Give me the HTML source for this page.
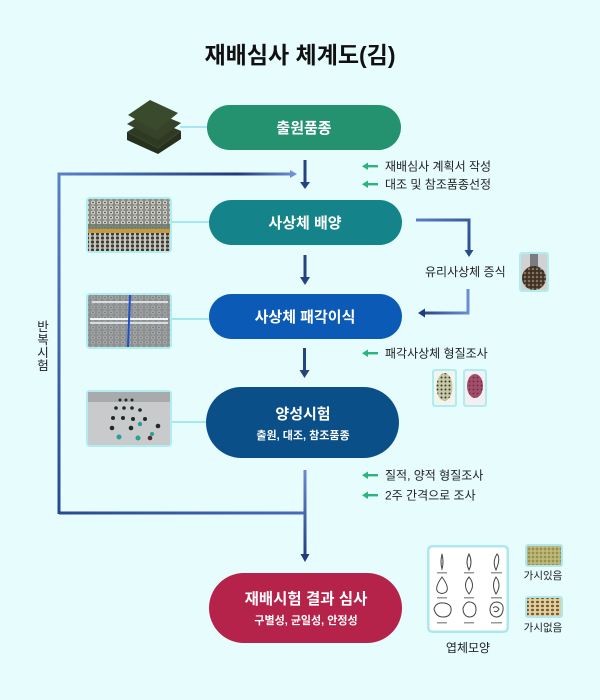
<!DOCTYPE html>
<html><head><meta charset="utf-8">
<style>
html,body{margin:0;padding:0;background:#e6fcfd;}
svg{display:block;font-family:"Liberation Sans","Noto Sans CJK KR",sans-serif;}
</style></head><body>
<svg width="600" height="700" viewBox="0 0 600 700" xmlns="http://www.w3.org/2000/svg">
<defs>
 <linearGradient id="gTop" gradientUnits="userSpaceOnUse" x1="59" y1="0" x2="297" y2="0">
  <stop offset="0" stop-color="#5b80c8"/><stop offset="0.75" stop-color="#1f3a7a"/><stop offset="1" stop-color="#7090d8"/>
 </linearGradient>
 <linearGradient id="gLeft" gradientUnits="userSpaceOnUse" x1="0" y1="174" x2="0" y2="514">
  <stop offset="0" stop-color="#5b80c8"/><stop offset="1" stop-color="#2a4a90"/>
 </linearGradient>
 <linearGradient id="gBot" gradientUnits="userSpaceOnUse" x1="59" y1="0" x2="305" y2="0">
  <stop offset="0" stop-color="#2a4a90"/><stop offset="1" stop-color="#4a6ab8"/>
 </linearGradient>
 <linearGradient id="gVert" gradientUnits="userSpaceOnUse" x1="0" y1="470" x2="0" y2="560">
  <stop offset="0" stop-color="#6a8ad2"/><stop offset="1" stop-color="#203c7c"/>
 </linearGradient>
 <linearGradient id="gR1" gradientUnits="userSpaceOnUse" x1="416" y1="220" x2="470" y2="257">
  <stop offset="0" stop-color="#5c7cc4"/><stop offset="1" stop-color="#2a4a8c"/>
 </linearGradient>
 <linearGradient id="gR2" gradientUnits="userSpaceOnUse" x1="470" y1="0" x2="418" y2="0">
  <stop offset="0" stop-color="#7090d4"/><stop offset="1" stop-color="#203c7c"/>
 </linearGradient>
 <pattern id="bub" width="6" height="5" patternUnits="userSpaceOnUse">
  <rect width="6" height="5" fill="#8a8c86"/>
  <circle cx="3" cy="2.5" r="2" fill="#d8d8d0"/>
  <circle cx="3" cy="2.5" r="0.9" fill="#4a4a40"/>
 </pattern>
 <pattern id="bub2" width="5" height="4" patternUnits="userSpaceOnUse">
  <rect width="5" height="4" fill="#c8c8c0"/>
  <circle cx="2.5" cy="2" r="1.6" fill="#3c3c34"/>
 </pattern>
 <pattern id="spk" width="4" height="4" patternUnits="userSpaceOnUse">
  <rect width="4" height="4" fill="#4a3a2a"/>
  <circle cx="1" cy="1" r="0.8" fill="#c8b8a0"/>
  <circle cx="3" cy="3" r="0.6" fill="#1e1810"/>
 </pattern>
 <pattern id="olive" width="4" height="4" patternUnits="userSpaceOnUse">
  <rect width="4" height="4" fill="#b6b070"/>
  <circle cx="1" cy="1" r="1" fill="#8a8a3c"/>
  <circle cx="3" cy="3" r="0.7" fill="#d0c890"/>
 </pattern>
 <pattern id="brownsp" width="5" height="4" patternUnits="userSpaceOnUse">
  <rect width="5" height="4" fill="#e0cfa0"/>
  <ellipse cx="2.5" cy="2" rx="1.6" ry="1.2" fill="#7a5a2a"/>
 </pattern>
 <pattern id="gsp" width="4" height="4" patternUnits="userSpaceOnUse">
  <rect width="4" height="4" fill="#c8c8a8"/>
  <circle cx="1.5" cy="1.5" r="1" fill="#2e3a20"/>
 </pattern>
 <pattern id="psp" width="4" height="4" patternUnits="userSpaceOnUse">
  <rect width="4" height="4" fill="#a04e6a"/>
  <circle cx="1.5" cy="1.5" r="0.9" fill="#6a2a4a"/>
 </pattern>
</defs>

<rect width="600" height="700" fill="#e6fcfd"/>

<!-- Title -->
<text x="300" y="63" text-anchor="middle" font-size="23" font-weight="bold" fill="#111">재배심사 체계도(김)</text>

<!-- photo connectors -->
<g stroke="#a6e8ee" stroke-width="2">
 <line x1="180" y1="127" x2="208" y2="127"/>
 <line x1="171" y1="222" x2="210" y2="222"/>
 <line x1="171" y1="319" x2="210" y2="319"/>
 <line x1="171" y1="422" x2="207" y2="422"/>
</g>

<!-- Laver stack -->
<g>
 <polygon points="127,132 150,118 181,131 158,148" fill="#2e3a22"/>
 <polygon points="127,124 150,110 181,123 158,140" fill="#36432a"/>
 <polygon points="128,115 150,100 178,113 156,131" fill="#3a4a2c"/>
 <polygon points="127,140 158,154 181,139 181,131 158,148 127,132" fill="#26301c"/>
</g>

<!-- Photo 2 (culture) -->
<g>
 <rect x="86" y="197" width="86" height="56" rx="4" fill="#b0ecf0"/>
 <rect x="88" y="199" width="82" height="52" rx="2" fill="url(#bub)"/>
 <rect x="88" y="224" width="82" height="5" fill="#6a7a6a" opacity="0.8"/>
 <rect x="88" y="229" width="82" height="4" fill="#c89a40"/>
 <rect x="88" y="233" width="82" height="18" fill="url(#bub2)"/>
</g>

<!-- Photo 3 (shell) -->
<g>
 <rect x="86" y="293" width="86" height="56" rx="4" fill="#b0ecf0"/>
 <rect x="88" y="295" width="82" height="52" rx="2" fill="#8e9296"/>
 <rect x="88" y="295" width="82" height="52" rx="2" fill="url(#bub)" opacity="0.35"/>
 <rect x="92" y="301" width="76" height="2" fill="#e8eef4" opacity="0.8"/>
 <rect x="90" y="318" width="78" height="2" fill="#f0f4f8"/>
 <rect x="90" y="322" width="78" height="2" fill="#e8eef4" opacity="0.8"/>
 <line x1="130" y1="295" x2="128" y2="347" stroke="#1a50d0" stroke-width="2"/>
</g>

<!-- Photo 4 (field) -->
<g>
 <rect x="86" y="390" width="86" height="57" rx="4" fill="#b0ecf0"/>
 <rect x="88" y="392" width="82" height="53" rx="2" fill="#c8cacc"/>
 <rect x="88" y="392" width="82" height="10" fill="#a8aaac"/>
 <g fill="#1e2a24">
  <circle cx="120" cy="400" r="1.5"/><circle cx="126" cy="400" r="1.5"/><circle cx="132" cy="400" r="1.5"/>
  <circle cx="116" cy="408" r="1.8"/><circle cx="124" cy="408" r="1.8"/><circle cx="132" cy="408" r="1.8"/><circle cx="140" cy="410" r="1.8"/>
  <circle cx="113" cy="418" r="2"/><circle cx="123" cy="418" r="2"/><circle cx="133" cy="419" r="2"/><circle cx="145" cy="419" r="2"/>
  <circle cx="112" cy="428" r="2.3"/><circle cx="131" cy="428" r="2.3"/><circle cx="158" cy="426" r="2.3"/>
 </g>
 <g fill="#2aa090">
  <circle cx="140" cy="424" r="2.2"/><circle cx="119" cy="437" r="2.5"/><circle cx="138" cy="438" r="2.5"/><circle cx="152" cy="434" r="2"/>
 </g>
 <circle cx="150" cy="438" r="2.3" fill="#5a2a2a"/>
</g>

<!-- Loop line -->
<g fill="none" stroke-width="3">
 <polyline points="59,514 59,174 291,174" stroke="url(#gTop)"/>
 <line x1="59" y1="175" x2="59" y2="514" stroke="url(#gLeft)"/>
 <line x1="59" y1="513" x2="305" y2="513" stroke="url(#gBot)"/>
 <line x1="305" y1="470" x2="305" y2="555" stroke="url(#gVert)"/>
</g>
<polygon points="290,170 297,174 290,178" fill="#7090d8"/>
<polygon points="300.5,554 309.5,554 305,562" fill="#203c7c"/>

<!-- Down arrows -->
<g fill="#25447f">
 <rect x="303.5" y="160" width="3" height="23"/><polygon points="300,182 310,182 305,189"/>
 <rect x="303.5" y="255" width="3" height="23"/><polygon points="300,277 310,277 305,285"/>
 <rect x="303" y="348" width="3" height="23"/><polygon points="299.5,370 309.5,370 304.5,378"/>
</g>

<!-- right branch -->
<polyline points="416,220 469,220 469,251" fill="none" stroke="url(#gR1)" stroke-width="3"/>
<polygon points="464.5,250 473.5,250 469,257" fill="#2a4a8c"/>
<polyline points="468,289 468,313 424,313" fill="none" stroke="url(#gR2)" stroke-width="3"/>
<polygon points="425,308.5 425,317.5 418,313" fill="#203c7c"/>

<!-- Pills -->
<rect x="207" y="105" width="194" height="45" rx="22.5" fill="#24926e"/>
<text x="304" y="133" text-anchor="middle" font-size="15" font-weight="bold" fill="#fff">출원품종</text>

<rect x="209" y="200" width="193" height="45" rx="22.5" fill="#14848a"/>
<text x="305" y="228" text-anchor="middle" font-size="15" font-weight="bold" fill="#fff">사상체 배양</text>

<rect x="209" y="294" width="193" height="45" rx="22.5" fill="#0b5bb6"/>
<text x="305" y="322" text-anchor="middle" font-size="15" font-weight="bold" fill="#fff">사상체 패각이식</text>

<rect x="206" y="387" width="193" height="71" rx="35.5" fill="#0a4f88"/>
<text x="303" y="419" text-anchor="middle" font-size="15" font-weight="bold" fill="#fff">양성시험</text>
<text x="303" y="439" text-anchor="middle" font-size="11" font-weight="bold" fill="#fff">출원, 대조, 참조품종</text>

<rect x="209" y="573" width="193" height="70" rx="35" fill="#b5234a"/>
<text x="306" y="604" text-anchor="middle" font-size="15.5" font-weight="bold" fill="#fff">재배시험 결과 심사</text>
<text x="306" y="624" text-anchor="middle" font-size="11" font-weight="bold" fill="#fff">구별성, 균일성, 안정성</text>

<!-- Green note arrows -->
<g fill="#2db37c">
 <rect x="367" y="165" width="11" height="2.4"/><polygon points="362,166.2 368,162.5 368,170"/>
 <rect x="367" y="183" width="11" height="2.4"/><polygon points="362,184.2 368,180.5 368,188"/>
 <rect x="367" y="352" width="11" height="2.4"/><polygon points="362,353.2 368,349.5 368,357"/>
 <rect x="367" y="474" width="11" height="2.4"/><polygon points="362,475.2 368,471.5 368,479"/>
 <rect x="367" y="494" width="11" height="2.4"/><polygon points="362,495.2 368,491.5 368,499"/>
</g>
<g font-size="12" fill="#222">
 <text x="385" y="170.5">재배심사 계획서 작성</text>
 <text x="385" y="188.5">대조 및 참조품종선정</text>
 <text x="385" y="357.5">패각사상체 형질조사</text>
 <text x="385" y="479.5">질적, 양적 형질조사</text>
 <text x="385" y="499.5">2주 간격으로 조사</text>
 <text x="425" y="276">유리사상체 증식</text>
</g>

<!-- 반복시험 vertical -->
<g font-size="12.5" fill="#222" text-anchor="middle">
 <text x="43" y="331">반</text>
 <text x="43" y="344">복</text>
 <text x="43" y="357">시</text>
 <text x="43" y="370">험</text>
</g>

<!-- flask image -->
<g>
 <rect x="519" y="252" width="30" height="40" rx="3" fill="#b0ecf0"/>
 <rect x="521" y="254" width="26" height="36" rx="2" fill="#d0d2d4"/>
 <rect x="530" y="254" width="8" height="14" fill="#7a7c80"/>
 <circle cx="534" cy="278" r="12" fill="url(#spk)"/>
</g>

<!-- shell images -->
<g>
 <rect x="432" y="369" width="25" height="38" rx="3" fill="#b0ecf0"/>
 <rect x="434" y="371" width="21" height="34" rx="2" fill="#f4f4ee"/>
 <ellipse cx="444.5" cy="387" rx="8" ry="14" fill="url(#gsp)"/>
 <rect x="463" y="369" width="24" height="38" rx="3" fill="#b0ecf0"/>
 <rect x="465" y="371" width="20" height="34" rx="2" fill="#f4f0f2"/>
 <ellipse cx="475" cy="386" rx="8" ry="12" fill="url(#psp)"/>
</g>

<!-- Leaf panel -->
<g>
 <rect x="427" y="545" width="82" height="88" rx="5" fill="#aee8ee"/>
 <rect x="429.5" y="547.5" width="77" height="83" rx="3" fill="#fff"/>
 <g fill="none" stroke="#444" stroke-width="1">
  <path d="M442,554 Q444,562 442,569 Q440,562 442,554Z"/>
  <path d="M469,554 Q473,562 469,570 Q465,562 469,554Z"/>
  <path d="M497,554 Q501,558 496,570 Q492,562 497,554Z"/>
  <path d="M442,577 Q450,588 446,592 Q442,595 438,592 Q434,588 442,577Z"/>
  <path d="M469,577 Q476,585 469,594 Q462,585 469,577Z"/>
  <path d="M496,577 Q502,585 496,594 Q491,585 496,577Z"/>
  <path d="M434,609 Q436,602 444,603 Q452,604 451,611 Q450,617 443,617 Q436,617 434,609Z"/>
  <path d="M463,608 Q466,601 470,602 Q476,603 476,609 Q476,617 469,617 Q463,616 463,608Z"/>
  <path d="M490,609 Q491,602 497,602 Q504,603 503,610 Q502,617 496,617 Q490,616 490,609Z"/>
  <path d="M493,608 Q496,605 499,609 Q497,613 494,611"/>
 </g>
 <g fill="#999">
  <rect x="437" y="572" width="10" height="1.5"/><rect x="464" y="572" width="10" height="1.5"/><rect x="491" y="572" width="11" height="1.5"/>
  <rect x="437" y="597" width="10" height="1.5"/><rect x="464" y="597" width="10" height="1.5"/><rect x="491" y="597" width="11" height="1.5"/>
  <rect x="437" y="622" width="10" height="1.5"/><rect x="464" y="622" width="10" height="1.5"/><rect x="491" y="622" width="11" height="1.5"/>
 </g>
</g>
<text x="468" y="652" text-anchor="middle" font-size="12" fill="#222">엽체모양</text>

<!-- spine images -->
<g>
 <rect x="525" y="544" width="38" height="23" rx="3" fill="#aee8ee"/>
 <rect x="527" y="546" width="34" height="19" rx="1" fill="url(#olive)"/>
 <rect x="525" y="596" width="38" height="22" rx="3" fill="#aee8ee"/>
 <rect x="527" y="598" width="34" height="18" rx="1" fill="url(#brownsp)"/>
</g>
<text x="543" y="579" text-anchor="middle" font-size="10.5" fill="#222">가시있음</text>
<text x="543" y="631" text-anchor="middle" font-size="10.5" fill="#222">가시없음</text>

</svg>
</body></html>
